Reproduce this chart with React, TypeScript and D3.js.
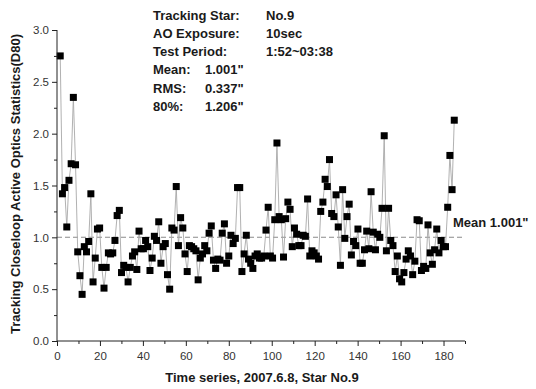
import React, { useEffect, useRef } from "react";
import * as d3 from "d3";

// D80 samples in time order
const d80Values = [
  // 0 - 30
  2.75, 1.42, 1.48, 1.1, 1.55, 1.71, 2.35, 1.7, 0.86, 0.63, 0.45, 0.91, 0.86, 0.96, 1.42,
  0.57, 0.8, 1.08, 1.09, 0.71, 0.51, 0.71, 0.85, 0.84, 0.85, 0.97, 1.21, 1.26, 0.66,
  // 30 - 62
  0.73, 0.71, 0.57, 0.71, 0.82, 0.86, 0.69, 1.06, 0.89, 0.89, 0.97, 0.91, 0.68, 0.8, 1.01,
  0.97, 1.15, 0.75, 0.91, 0.94, 0.64, 0.5, 1.09, 1.07, 1.49, 0.92, 1.19, 1.09, 0.84, 0.67, 0.92,
  // 62 - 95
  0.91, 0.89, 0.87, 0.59, 0.8, 0.84, 0.92, 0.87, 1.04, 1.11, 0.78, 0.7, 0.79, 0.78, 1.04,
  1.13, 0.75, 0.82, 1.02, 0.94, 0.99, 1.48, 1.48, 0.67, 0.84, 1.02, 0.79, 0.75, 0.7, 0.82,
  0.84, 0.8,
  // 95 - 125
  0.8, 0.82, 1.07, 1.29, 0.82, 0.8, 1.17, 1.91, 1.2, 1.17, 0.81, 1.18, 1.34, 1.27, 0.91,
  1.09, 1.03, 0.92, 0.92, 1.02, 1.01, 1.37, 0.82, 0.87, 0.85, 0.82, 0.79, 1.25, 1.34, 1.56,
  // 125 - 156
  1.49, 1.75, 1.23, 1.2, 1.41, 1.1, 0.73, 1.46, 0.99, 1.2, 1.32, 0.83, 0.96, 0.92, 1.08,
  0.75, 0.75, 0.88, 1.06, 0.89, 1.44, 1.05, 0.88, 1.03, 1.0, 1.28, 1.98, 0.87, 1.28, 0.97,
  // 156 - 185
  0.92, 0.67, 0.82, 0.6, 0.57, 0.66, 0.79, 0.87, 0.82, 0.64, 0.77, 1.17, 1.16, 0.68, 0.72,
  0.7, 1.12, 0.85, 0.74, 0.88, 1.08, 0.85, 0.97, 0.91, 0.91, 1.29, 1.79, 1.46, 2.13,
];

const firstSample = 1.5;
const lastSample = 185;
const meanValue = 1.001;

const xTicks = [0, 20, 40, 60, 80, 100, 120, 140, 160, 180];
const xMinorTicks = [10, 30, 50, 70, 90, 110, 130, 150, 170, 190];
const yTicks = [0, 0.5, 1.0, 1.5, 2.0, 2.5, 3.0];
const yMinorTicks = [0.25, 0.75, 1.25, 1.75, 2.25, 2.75];

const infoLeft = ["Tracking Star:", "AO Exposure:", "Test Period:"];
const infoRight = ["No.9", "10sec", "1:52~03:38"];
const statNames = ["Mean:", "RMS:", "80%:"];
const statValues = ['1.001"', '0.337"', '1.206"'];

const FONT = "Arial, 'Liberation Sans', sans-serif";

const App = () => {
  const ref = useRef<SVGSVGElement>(null);

  useEffect(() => {
    const svg = d3.select(ref.current);
    svg.selectAll("*").remove();

    const width = 536;
    const height = 389;
    const margin = { top: 30, right: 71, bottom: 48, left: 57 };

    const x = d3
      .scaleLinear()
      .domain([0, 190])
      .range([margin.left, width - margin.right]);
    const y = d3
      .scaleLinear()
      .domain([0, 3])
      .range([height - margin.bottom, margin.top]);

    // sample index -> time value
    const t = d3
      .scaleLinear()
      .domain([0, d80Values.length - 1])
      .range([firstSample, lastSample]);

    svg.attr("width", width).attr("height", height);

    // mean line
    svg
      .append("line")
      .attr("x1", x(0))
      .attr("x2", x(189))
      .attr("y1", y(meanValue))
      .attr("y2", y(meanValue))
      .attr("stroke", "#8a8a8a")
      .attr("stroke-width", 1.2)
      .attr("stroke-dasharray", "5,3");

    // connecting line
    const line = d3
      .line<number>()
      .x((d, i) => x(t(i)))
      .y((d) => y(d));
    svg
      .append("path")
      .datum(d80Values)
      .attr("d", line)
      .attr("fill", "none")
      .attr("stroke", "#a8a8a8")
      .attr("stroke-width", 0.9);

    // square markers
    const s = 7;
    svg
      .append("g")
      .selectAll("rect")
      .data(d80Values)
      .join("rect")
      .attr("x", (d, i) => x(t(i)) - s / 2)
      .attr("y", (d) => y(d) - s / 2)
      .attr("width", s)
      .attr("height", s)
      .attr("fill", "#000");

    // axes
    const axisColor = "#222";
    const xAxis = svg
      .append("g")
      .attr("transform", `translate(0,${height - margin.bottom})`)
      .call(
        d3
          .axisBottom(x)
          .tickValues(xTicks)
          .tickSize(5)
          .tickFormat(d3.format("d"))
      );
    xAxis.select(".domain").attr("stroke", axisColor).attr("d", `M${x(0)},0H${x(190)}`);
    xAxis.selectAll(".tick line").attr("stroke", axisColor);
    xAxis
      .selectAll(".tick text")
      .attr("font-family", FONT)
      .attr("font-size", 11.5)
      .attr("fill", "#333")
      .attr("dy", "0.95em");
    svg
      .append("g")
      .attr("transform", `translate(0,${height - margin.bottom})`)
      .call(d3.axisBottom(x).tickValues(xMinorTicks).tickSize(3).tickFormat(() => ""))
      .call((g) => g.select(".domain").remove())
      .selectAll(".tick line")
      .attr("stroke", axisColor);

    const yAxis = svg
      .append("g")
      .attr("transform", `translate(${margin.left},0)`)
      .call(
        d3
          .axisLeft(y)
          .tickValues(yTicks)
          .tickSize(5)
          .tickFormat(d3.format(".1f"))
      );
    yAxis.select(".domain").attr("stroke", axisColor).attr("d", `M0,${y(0)}V${y(3)}`);
    yAxis.selectAll(".tick line").attr("stroke", axisColor);
    yAxis
      .selectAll(".tick text")
      .attr("font-family", FONT)
      .attr("font-size", 11.5)
      .attr("fill", "#333")
      .attr("x", -8);
    svg
      .append("g")
      .attr("transform", `translate(${margin.left},0)`)
      .call(d3.axisLeft(y).tickValues(yMinorTicks).tickSize(3).tickFormat(() => ""))
      .call((g) => g.select(".domain").remove())
      .selectAll(".tick line")
      .attr("stroke", axisColor);

    // titles
    svg
      .append("text")
      .attr("x", 262)
      .attr("y", 382)
      .attr("text-anchor", "middle")
      .attr("font-family", FONT)
      .attr("font-weight", "bold")
      .attr("font-size", 13)
      .attr("fill", "#1a1a1a")
      .text("Time series, 2007.6.8, Star No.9");

    svg
      .append("text")
      .attr("transform", `translate(20,${184}) rotate(-90)`)
      .attr("text-anchor", "middle")
      .attr("font-family", FONT)
      .attr("font-weight", "bold")
      .attr("font-size", 13)
      .attr("fill", "#1a1a1a")
      .text("Tracking Closeloop Active Optics Statistics(D80)");

    // info block
    const info = svg
      .append("g")
      .attr("font-family", FONT)
      .attr("font-weight", "bold")
      .attr("font-size", 13)
      .attr("fill", "#1a1a1a");
    const rowY = (i: number) => 19.5 + i * 18.3;
    infoLeft.forEach((label, i) => {
      info.append("text").attr("x", 153).attr("y", rowY(i)).text(label);
      info.append("text").attr("x", 266).attr("y", rowY(i)).text(infoRight[i]);
    });
    statNames.forEach((label, i) => {
      info.append("text").attr("x", 153).attr("y", rowY(i + 3)).text(label);
      info.append("text").attr("x", 205).attr("y", rowY(i + 3)).text(statValues[i]);
    });

    // mean label
    svg
      .append("text")
      .attr("x", 453)
      .attr("y", y(meanValue) - 10)
      .attr("font-family", FONT)
      .attr("font-weight", "bold")
      .attr("font-size", 13)
      .attr("fill", "#1a1a1a")
      .text(`Mean ${meanValue.toFixed(3)}"`);
  }, []);

  return (
    <svg
      ref={ref}
      style={{ position: "absolute", left: 0, top: 0, background: "#fff" }}
    ></svg>
  );
};

export default App;
